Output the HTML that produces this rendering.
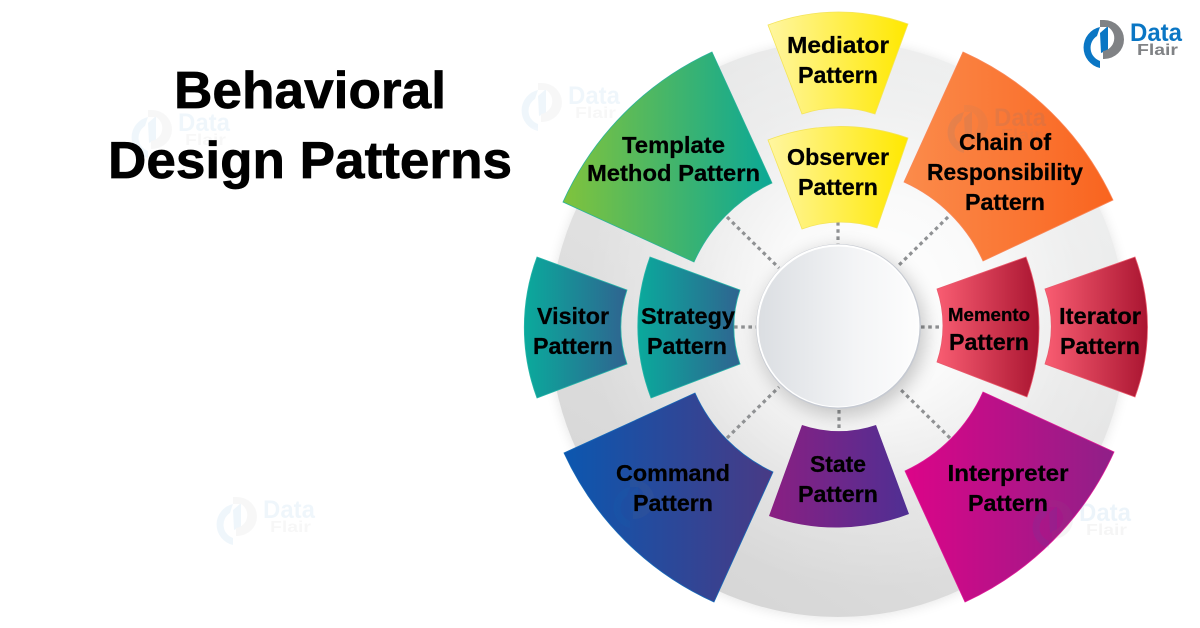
<!DOCTYPE html>
<html lang="en">
<head>
<meta charset="utf-8">
<title>Behavioral Design Patterns</title>
<style>
html,body{margin:0;padding:0;background:#fff;width:1200px;height:628px;overflow:hidden}
svg{display:block}
text{font-family:"Liberation Sans",sans-serif;font-weight:bold;fill:#000}
.l{font-size:23px;text-anchor:middle;stroke:#000;stroke-width:0.25}
.t{stroke:#000;stroke-width:0.7}
.dash{stroke:#8f9193;stroke-width:3.2;stroke-dasharray:3.6 3.6;fill:none}
.wb{fill:#0a76c4}.wg{fill:#808285}
</style>
</head>
<body>
<svg xmlns="http://www.w3.org/2000/svg" width="1200" height="628" viewBox="0 0 1200 628">
<defs>
<linearGradient id="disk" x1="0.8" y1="0.1" x2="0.25" y2="0.95">
<stop offset="0" stop-color="#eceded"/><stop offset="0.5" stop-color="#e2e2e2"/><stop offset="1" stop-color="#d6d6d6"/>
</linearGradient>
<radialGradient id="glow" gradientUnits="userSpaceOnUse" cx="875" cy="300" r="290">
<stop offset="0" stop-color="#fff" stop-opacity="1"/><stop offset="0.35" stop-color="#fff" stop-opacity="0.8"/><stop offset="0.7" stop-color="#fff" stop-opacity="0.25"/><stop offset="1" stop-color="#fff" stop-opacity="0"/>
</radialGradient>
<linearGradient id="hub" x1="0" y1="0" x2="1" y2="0">
<stop offset="0" stop-color="#dbdee2"/><stop offset="0.6" stop-color="#f3f4f6"/><stop offset="1" stop-color="#fdfdfd"/>
</linearGradient>
<linearGradient id="yel" x1="0" y1="0" x2="1" y2="0"><stop offset="0" stop-color="#fff6a0"/><stop offset="1" stop-color="#ffe800"/></linearGradient>
<linearGradient id="grn" x1="0" y1="0" x2="1" y2="0"><stop offset="0" stop-color="#80c33c"/><stop offset="1" stop-color="#0ba896"/></linearGradient>
<linearGradient id="org" x1="0" y1="0" x2="1" y2="0"><stop offset="0" stop-color="#fb8b4b"/><stop offset="1" stop-color="#f9641f"/></linearGradient>
<linearGradient id="teal" x1="0" y1="0" x2="1" y2="0"><stop offset="0" stop-color="#0aaa9c"/><stop offset="1" stop-color="#2f6490"/></linearGradient>
<linearGradient id="red" x1="0" y1="0" x2="1" y2="0"><stop offset="0" stop-color="#f95d72"/><stop offset="1" stop-color="#aa1531"/></linearGradient>
<linearGradient id="blu" x1="0" y1="0" x2="1" y2="0"><stop offset="0" stop-color="#0c57af"/><stop offset="1" stop-color="#483a85"/></linearGradient>
<linearGradient id="pur" x1="0" y1="0" x2="1" y2="0"><stop offset="0" stop-color="#8a1f82"/><stop offset="1" stop-color="#4f2f93"/></linearGradient>
<linearGradient id="mag" x1="0" y1="0" x2="1" y2="0"><stop offset="0" stop-color="#dc0488"/><stop offset="1" stop-color="#8f2088"/></linearGradient>
<filter id="sh" x="-20%" y="-20%" width="140%" height="140%"><feGaussianBlur stdDeviation="6"/></filter>
<filter id="sh2" x="-30%" y="-30%" width="160%" height="160%"><feGaussianBlur stdDeviation="9"/></filter>
</defs>

<!-- disk -->
<circle cx="838" cy="330" r="288" fill="#000" opacity="0.10" filter="url(#sh)"/>
<circle cx="838" cy="329" r="288" fill="url(#disk)"/>
<circle cx="838" cy="329" r="288" fill="url(#glow)"/>

<!-- connectors -->
<path class="dash" d="M727 217L779 268"/>
<path class="dash" d="M838 222V245"/>
<path class="dash" d="M948 217L897 267"/>
<path class="dash" d="M734 327H757"/>
<path class="dash" d="M921 327H942"/>
<path class="dash" d="M727 438L779 387"/>
<path class="dash" d="M839 410V428"/>
<path class="dash" d="M950 438L899 388"/>

<!-- hub -->
<circle cx="842" cy="332" r="84" fill="#000" opacity="0.2" filter="url(#sh2)"/>
<circle cx="838.5" cy="326.5" r="82.5" fill="#c6cad2"/>
<circle cx="838" cy="326" r="81.5" fill="#fff"/>
<circle cx="838.5" cy="326.5" r="80" fill="url(#hub)"/>

<!-- segments -->
<path d="M563 202A302 302 0 0 1 712 52L772 183A158 158 0 0 0 694 262Z" fill="url(#grn)" stroke="#2bb39a" stroke-width="0.8"/>
<path d="M963 52A302 302 0 0 1 1113 200L983 261A158 158 0 0 0 904 182Z" fill="url(#org)" stroke="#f9885a" stroke-width="0.8"/>
<path d="M564 453A302 302 0 0 0 714 602L773 472A158 158 0 0 1 695 393Z" fill="url(#blu)" stroke="#1769b8" stroke-width="0.8"/>
<path d="M1114 452A302 302 0 0 1 965 602L905 471A158 158 0 0 0 983 392Z" fill="url(#mag)" stroke="#dd1a96" stroke-width="0.8"/>

<path d="M768 25A202 202 0 0 1 908 24L875 114A114 114 0 0 0 802 114Z" fill="url(#yel)" stroke="#f4e45a" stroke-width="0.8"/>
<path d="M768 140A202 202 0 0 1 908 138L877 228A114 114 0 0 0 802 229Z" fill="url(#yel)" stroke="#f4e45a" stroke-width="0.8"/>
<path d="M769 516A202 202 0 0 0 909 514L876 425A114 114 0 0 1 802 425Z" fill="url(#pur)"/>

<path d="M537 257A202 202 0 0 0 537 398L627 364A114 114 0 0 1 627 290Z" fill="url(#teal)" stroke="#27b5a8" stroke-width="0.8"/>
<path d="M650 257A202 202 0 0 0 651 398L740 364A114 114 0 0 1 740 290Z" fill="url(#teal)" stroke="#27b5a8" stroke-width="0.8"/>
<path d="M1026 257A202 202 0 0 1 1027 397L937 362A114 114 0 0 0 937 289Z" fill="url(#red)" stroke="#e85a6c" stroke-width="0.8"/>
<path d="M1135 257A202 202 0 0 1 1135 397L1045 364A114 114 0 0 0 1045 289Z" fill="url(#red)" stroke="#e85a6c" stroke-width="0.8"/>

<!-- watermarks -->
<g opacity="0.06" transform="translate(-952,90)"><path class="wb" d="M1100 27A21 21 0 0 0 1100 68V61A14 14 0 0 1 1097 36Z"/><path class="wb" d="M1100 33L1108 26V50L1101 53Z"/><path class="wg" d="M1100 20H1104A20 19.5 0 0 1 1104 59H1103V51A13 13 0 0 0 1108 27L1100 27Z"/><text x="1130" y="41" font-size="25" textLength="52" lengthAdjust="spacingAndGlyphs" class="wb">Data</text><text x="1137" y="55" font-size="16" textLength="41" lengthAdjust="spacingAndGlyphs" class="wg">Flair</text></g>
<g opacity="0.06" transform="translate(-562,63)"><path class="wb" d="M1100 27A21 21 0 0 0 1100 68V61A14 14 0 0 1 1097 36Z"/><path class="wb" d="M1100 33L1108 26V50L1101 53Z"/><path class="wg" d="M1100 20H1104A20 19.5 0 0 1 1104 59H1103V51A13 13 0 0 0 1108 27L1100 27Z"/><text x="1130" y="41" font-size="25" textLength="52" lengthAdjust="spacingAndGlyphs" class="wb">Data</text><text x="1137" y="55" font-size="16" textLength="41" lengthAdjust="spacingAndGlyphs" class="wg">Flair</text></g>
<g opacity="0.06" transform="translate(-867,477)"><path class="wb" d="M1100 27A21 21 0 0 0 1100 68V61A14 14 0 0 1 1097 36Z"/><path class="wb" d="M1100 33L1108 26V50L1101 53Z"/><path class="wg" d="M1100 20H1104A20 19.5 0 0 1 1104 59H1103V51A13 13 0 0 0 1108 27L1100 27Z"/><text x="1130" y="41" font-size="25" textLength="52" lengthAdjust="spacingAndGlyphs" class="wb">Data</text><text x="1137" y="55" font-size="16" textLength="41" lengthAdjust="spacingAndGlyphs" class="wg">Flair</text></g>
<g opacity="0.07" transform="translate(-51,480)"><path class="wb" d="M1100 27A21 21 0 0 0 1100 68V61A14 14 0 0 1 1097 36Z"/><path class="wb" d="M1100 33L1108 26V50L1101 53Z"/><path class="wg" d="M1100 20H1104A20 19.5 0 0 1 1104 59H1103V51A13 13 0 0 0 1108 27L1100 27Z"/><text x="1130" y="41" font-size="25" textLength="52" lengthAdjust="spacingAndGlyphs" class="wb">Data</text><text x="1137" y="55" font-size="16" textLength="41" lengthAdjust="spacingAndGlyphs" class="wg">Flair</text></g>
<g opacity="0.08" transform="translate(-136,85)"><path class="wb" d="M1100 27A21 21 0 0 0 1100 68V61A14 14 0 0 1 1097 36Z"/><path class="wb" d="M1100 33L1108 26V50L1101 53Z"/><path class="wg" d="M1100 20H1104A20 19.5 0 0 1 1104 59H1103V51A13 13 0 0 0 1108 27L1100 27Z"/><text x="1130" y="41" font-size="25" textLength="52" lengthAdjust="spacingAndGlyphs" class="wb">Data</text><text x="1137" y="55" font-size="16" textLength="41" lengthAdjust="spacingAndGlyphs" class="wg">Flair</text></g>
<g opacity="0.08" transform="translate(-470,460)"><path class="wb" d="M1100 27A21 21 0 0 0 1100 68V61A14 14 0 0 1 1097 36Z"/><path class="wb" d="M1100 33L1108 26V50L1101 53Z"/><path class="wg" d="M1100 20H1104A20 19.5 0 0 1 1104 59H1103V51A13 13 0 0 0 1108 27L1100 27Z"/></g>

<!-- labels -->
<text class="l" x="838" y="53" textLength="102" lengthAdjust="spacingAndGlyphs">Mediator</text>
<text class="l" x="838" y="83" textLength="80" lengthAdjust="spacingAndGlyphs">Pattern</text>
<text class="l" x="838" y="165" textLength="102" lengthAdjust="spacingAndGlyphs">Observer</text>
<text class="l" x="838" y="195" textLength="80" lengthAdjust="spacingAndGlyphs">Pattern</text>
<text class="l" x="673.5" y="153" textLength="103" lengthAdjust="spacingAndGlyphs">Template</text>
<text class="l" x="673.5" y="181" textLength="173" lengthAdjust="spacingAndGlyphs">Method Pattern</text>
<text class="l" x="1005" y="150" textLength="92" lengthAdjust="spacingAndGlyphs">Chain of</text>
<text class="l" x="1005" y="180" textLength="156" lengthAdjust="spacingAndGlyphs">Responsibility</text>
<text class="l" x="1005" y="210" textLength="80" lengthAdjust="spacingAndGlyphs">Pattern</text>
<text class="l" x="573" y="324" textLength="72" lengthAdjust="spacingAndGlyphs">Visitor</text>
<text class="l" x="573" y="354" textLength="80" lengthAdjust="spacingAndGlyphs">Pattern</text>
<text class="l" x="688" y="324" textLength="94" lengthAdjust="spacingAndGlyphs">Strategy</text>
<text class="l" x="687" y="354" textLength="80" lengthAdjust="spacingAndGlyphs">Pattern</text>
<text class="l" x="989" y="321" style="font-size:18px" textLength="82" lengthAdjust="spacingAndGlyphs">Memento</text>
<text class="l" x="989" y="350" textLength="80" lengthAdjust="spacingAndGlyphs">Pattern</text>
<text class="l" x="1100" y="324" textLength="82" lengthAdjust="spacingAndGlyphs">Iterator</text>
<text class="l" x="1100" y="354" textLength="80" lengthAdjust="spacingAndGlyphs">Pattern</text>
<text class="l" x="673" y="481" textLength="114" lengthAdjust="spacingAndGlyphs">Command</text>
<text class="l" x="673" y="511" textLength="80" lengthAdjust="spacingAndGlyphs">Pattern</text>
<text class="l" x="838" y="472" textLength="56" lengthAdjust="spacingAndGlyphs">State</text>
<text class="l" x="838" y="502" textLength="80" lengthAdjust="spacingAndGlyphs">Pattern</text>
<text class="l" x="1008" y="481" textLength="121" lengthAdjust="spacingAndGlyphs">Interpreter</text>
<text class="l" x="1008" y="511" textLength="80" lengthAdjust="spacingAndGlyphs">Pattern</text>

<!-- title -->
<text class="t" x="174" y="108" font-size="52" textLength="272" lengthAdjust="spacingAndGlyphs">Behavioral</text>
<text class="t" x="108" y="178" font-size="52" textLength="404" lengthAdjust="spacingAndGlyphs">Design Patterns</text>

<!-- logo -->
<g>
<path class="wb" d="M1100 27A21 21 0 0 0 1100 68V61A14 14 0 0 1 1097 36Z"/>
<path class="wb" d="M1100 33L1108 26V50L1101 53Z"/>
<path class="wg" d="M1100 20H1104A20 19.5 0 0 1 1104 59H1103V51A13 13 0 0 0 1108 27L1100 27Z"/>
<text x="1130" y="41" font-size="25" textLength="52" lengthAdjust="spacingAndGlyphs" class="wb">Data</text>
<text x="1137" y="55" font-size="16" textLength="41" lengthAdjust="spacingAndGlyphs" class="wg">Flair</text>
</g>
</svg>
</body>
</html>
